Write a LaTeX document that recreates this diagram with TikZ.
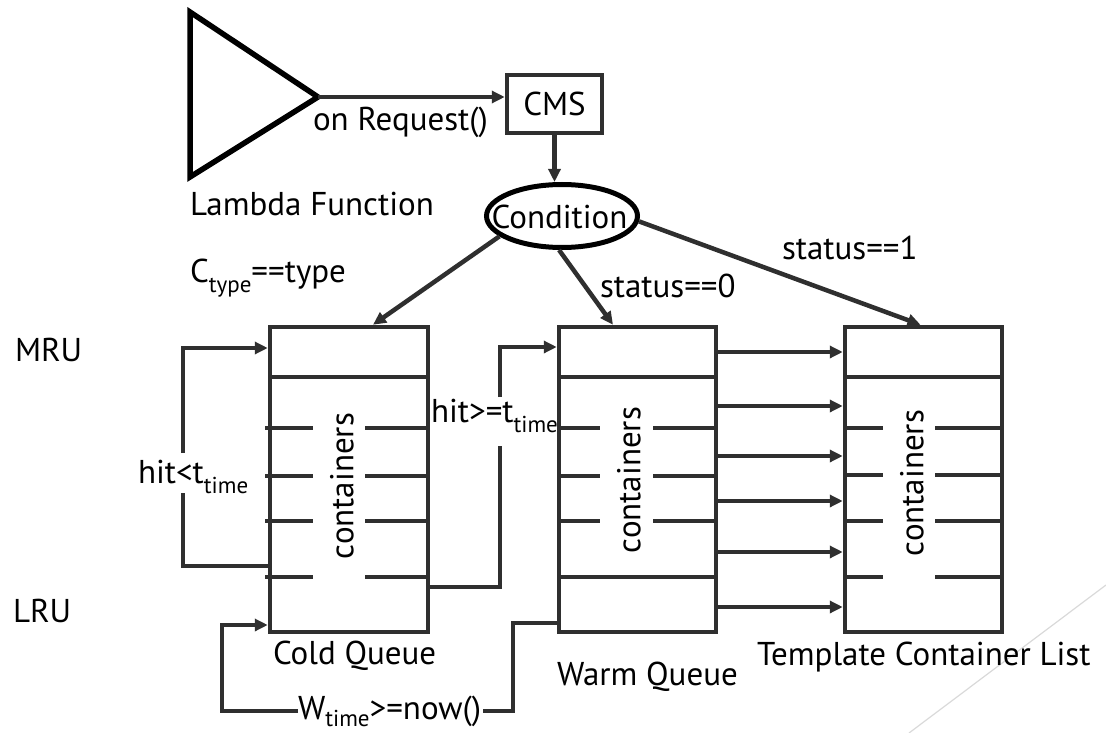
\documentclass[tikz,border=0pt]{standalone}
\usepackage{fontspec}
\setmainfont{PT Sans}
\usetikzlibrary{arrows.meta,shapes.geometric,calc}
\definecolor{ink}{HTML}{2F2F2F}
\definecolor{deco}{HTML}{D9D9D9}
% subscript with fixed size and drop
\newcommand{\lowsub}[2][10pt]{\raisebox{-#1}{\fontsize{23}{23}\selectfont #2}}
\begin{document}
\begin{tikzpicture}[x=1pt,y=-1pt,
  every node/.style={font=\fontsize{33}{40}\selectfont},
  txt/.style={anchor=base west, inner sep=0pt, outer sep=0pt},
  qbox/.style={draw=ink, line width=4.5pt, minimum width=158pt, minimum height=305pt, inner sep=0pt},
  wire/.style={draw=ink, line width=4.5pt},
  conn/.style={wire, -{Triangle[length=13pt,width=12pt]}},
  row/.style={draw=ink, line width=4.5pt},
  vlab/.style={rotate=90, inner sep=0pt}]
\useasboundingbox (0,0) rectangle (1106,733);

% slide decoration line
\draw[deco, line width=1.2pt] (1106,585) -- (909,733);

% Lambda function symbol
\draw[line width=5.5pt] (190,12) -- (318,97) -- (190,177) -- cycle;
\coordinate (tip) at (318,97);
\node[txt] (lambda) at (190,215) {Lambda Function};

% controller and condition
\node[draw=ink, line width=4.5pt, minimum width=95pt, minimum height=58pt, inner sep=0pt] (cms) at (554.5,104) {CMS};
\node[ellipse, draw=black, line width=5pt, minimum width=151pt, minimum height=63pt, inner sep=0pt] (cond) at (562,216) {};
\node[inner sep=0pt] (condt) at (559.5,216.5) {Condition};

\draw[conn] (tip) -- (tip -| cms.west);
\node[txt] (onreq) at (313,131) {on Request()};
\draw[conn] (cms.south) -- (cms.south |- cond.north);

% queues
\node[qbox] (cold) at (349,479.5) {};
\node[qbox, minimum width=157pt] (warm) at (637.5,479.5) {};
\node[qbox, minimum width=157pt] (tmpl) at (923.5,479.5) {};

% slots of the cold queue
\draw[row] (270,377) -- (428,377);
\foreach \y in {428,476,521,577}{
  \draw[row] (265,\y) -- (313,\y);
  \draw[row] (365,\y) -- (428,\y);
}
% slots of the warm queue
\foreach \y in {377,577}{ \draw[row] (559,\y) -- (716,\y); }
\foreach \y in {428,476,521}{
  \draw[row] (559,\y) -- (600,\y);
  \draw[row] (653,\y) -- (716,\y);
}
% slots of the template list
\draw[row] (845,377) -- (1002,377);
\foreach \y in {428,475,521,577}{
  \draw[row] (845,\y) -- (883,\y);
  \draw[row] (935,\y) -- (1002,\y);
}

\node[vlab] (c1) at (342,486) {containers};
\node[vlab] (c2) at (629,480) {containers};
\node[vlab] (c3) at (912,483) {containers};

\node[txt] (coldlab) at (273,664) {Cold Queue};
\node[txt] (warmlab) at (557,685) {Warm Queue};
\node[txt] (tmpllab) at (757,665) {Template Container List};

% branches out of the condition
\draw[conn] (cond.198) -- ([xshift=24pt]cold.north);
\draw[conn] (cond.265) -- ([xshift=-24.5pt]warm.north);
\draw[conn] (cond.356) -- ([xshift=-3pt]tmpl.north);
\node[txt] (ctype) at (190,282) {C\lowsub{type}==type};
\node[txt] (st0) at (600,297) {status==0};
\node[txt] (st1) at (782,259) {status==1};

\node[txt] (mru) at (15,361) {MRU};
\node[txt] (lru) at (13,622) {LRU};

% cold queue: miss keeps the entry cold
\coordinate (hl1) at (183,566);
\coordinate (hl2) at (183,493);
\coordinate (hl3) at (183,453);
\coordinate (hl4) at (183,348);
\draw[wire] (cold.west |- hl1) -- (hl1) -- (hl2);
\draw[conn] (hl3) -- (hl4) -- (cold.west |- hl4);
\node[txt] (hitlt) at (138,483) {hit<t\lowsub{time}};

% cold to warm promotion
\coordinate (hg1) at (500,587);
\coordinate (hg2) at (500,446);
\coordinate (hg3) at (500,397);
\coordinate (hg4) at (500,347);
\draw[wire] (cold.east |- hg1) -- (hg1) -- (hg2);
\draw[conn] (hg3) -- (hg4) -- (warm.west |- hg4);
\node[txt] (hitge) at (431,422) {hit>=t\lowsub{time}};

% warm to cold demotion
\coordinate (w1) at (513,623);
\coordinate (w2) at (513,711);
\coordinate (w3) at (483,711);
\coordinate (w4) at (298,711);
\coordinate (w5) at (222,711);
\coordinate (w6) at (222,625);
\draw[wire] (warm.west |- w1) -- (w1) -- (w2) -- (w3);
\draw[conn] (w4) -- (w5) -- (w6) -- (cold.west |- w6);
\node[txt] (wtime) at (298,719) {W\lowsub[7pt]{time}>=now()};

% warm entries feeding the template list
\foreach \y [count=\i] in {352,406,456,501,552,607}{
  \coordinate (ya\i) at (0,\y);
  \draw[conn] (warm.east |- ya\i) -- (tmpl.west |- ya\i);
}
\end{tikzpicture}
\end{document}
